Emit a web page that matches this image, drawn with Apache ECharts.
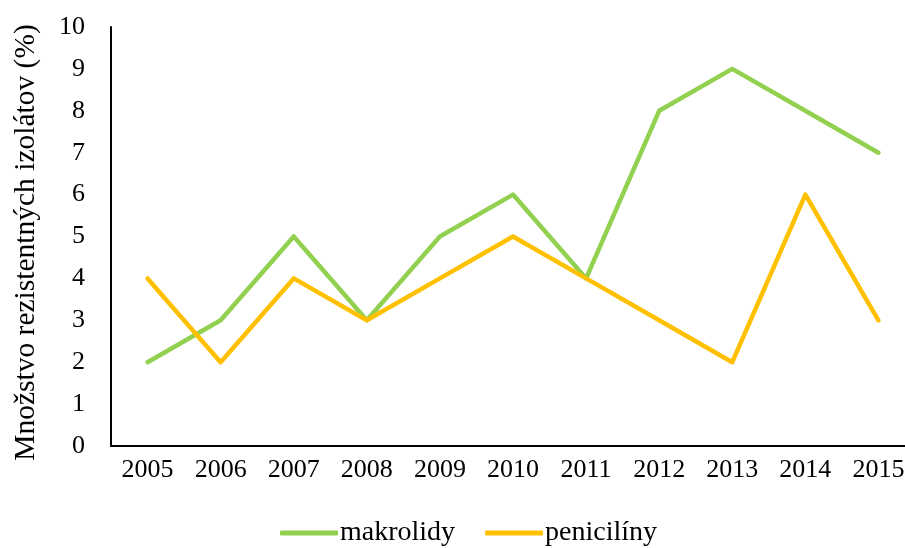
<!DOCTYPE html>
<html>
<head>
<meta charset="utf-8">
<script src="https://cdn.jsdelivr.net/npm/echarts@6/dist/echarts.min.js"></script>
<style>
  html, body { margin: 0; padding: 0; background: #fff; }
  #chart { width: 905px; height: 548px; }
</style>
</head>
<body>
<div id="chart"></div>
<script>
// Years on the category axis
const years = ['2005', '2006', '2007', '2008', '2009', '2010', '2011', '2012', '2013', '2014', '2015'];
// Number of resistant isolates (%) per antibiotic group
const makrolidy = [2, 3, 5, 3, 5, 6, 4, 8, 9, 8, 7];
const peniciliny = [4, 2, 4, 3, 4, 5, 4, 3, 2, 6, 3];
const seriesNames = ['makrolidy', 'penicilíny'];
const yAxisTitle = 'Množstvo rezistentných izolátov (%)';

const font = '"Liberation Serif", "Times New Roman", serif';
const chart = echarts.init(document.getElementById('chart'));
chart.setOption({
  animation: false,
  backgroundColor: '#ffffff',
  // plot area runs past the right edge of the canvas
  grid: { left: 111, top: 27, width: 804, height: 419, containLabel: false, outerBoundsMode: 'none' },
  legend: {
    left: 275,
    top: 514,
    itemWidth: 58,
    itemHeight: 5,
    itemGap: 30,
    icon: 'roundRect',
    textStyle: { fontFamily: font, fontSize: 28, color: '#000', padding: [0, 0, 0, -3] },
    data: seriesNames
  },
  xAxis: {
    type: 'category',
    data: years,
    boundaryGap: true,
    axisLine: { lineStyle: { color: '#000', width: 2 } },
    axisTick: { show: false },
    axisLabel: { fontFamily: font, fontSize: 26, color: '#000', margin: 11 }
  },
  yAxis: {
    type: 'value',
    min: 0,
    max: 10,
    interval: 1,
    name: yAxisTitle,
    nameLocation: 'middle',
    nameGap: 70,
    nameTextStyle: { fontFamily: font, fontSize: 29.5, color: '#000', padding: [0, 12, 0, 0] },
    axisLine: { show: true, lineStyle: { color: '#000', width: 2 } },
    axisTick: { show: false },
    splitLine: { show: false },
    axisLabel: { fontFamily: font, fontSize: 26, color: '#000', margin: 26 }
  },
  series: [
    {
      name: seriesNames[0],
      type: 'line',
      data: makrolidy,
      symbol: 'none',
      color: '#92D050',
      lineStyle: { color: '#92D050', width: 4.5, cap: 'round', join: 'round' }
    },
    {
      name: seriesNames[1],
      type: 'line',
      data: peniciliny,
      symbol: 'none',
      color: '#FFC000',
      lineStyle: { color: '#FFC000', width: 4.5, cap: 'round', join: 'round' }
    }
  ]
});
</script>
</body>
</html>
